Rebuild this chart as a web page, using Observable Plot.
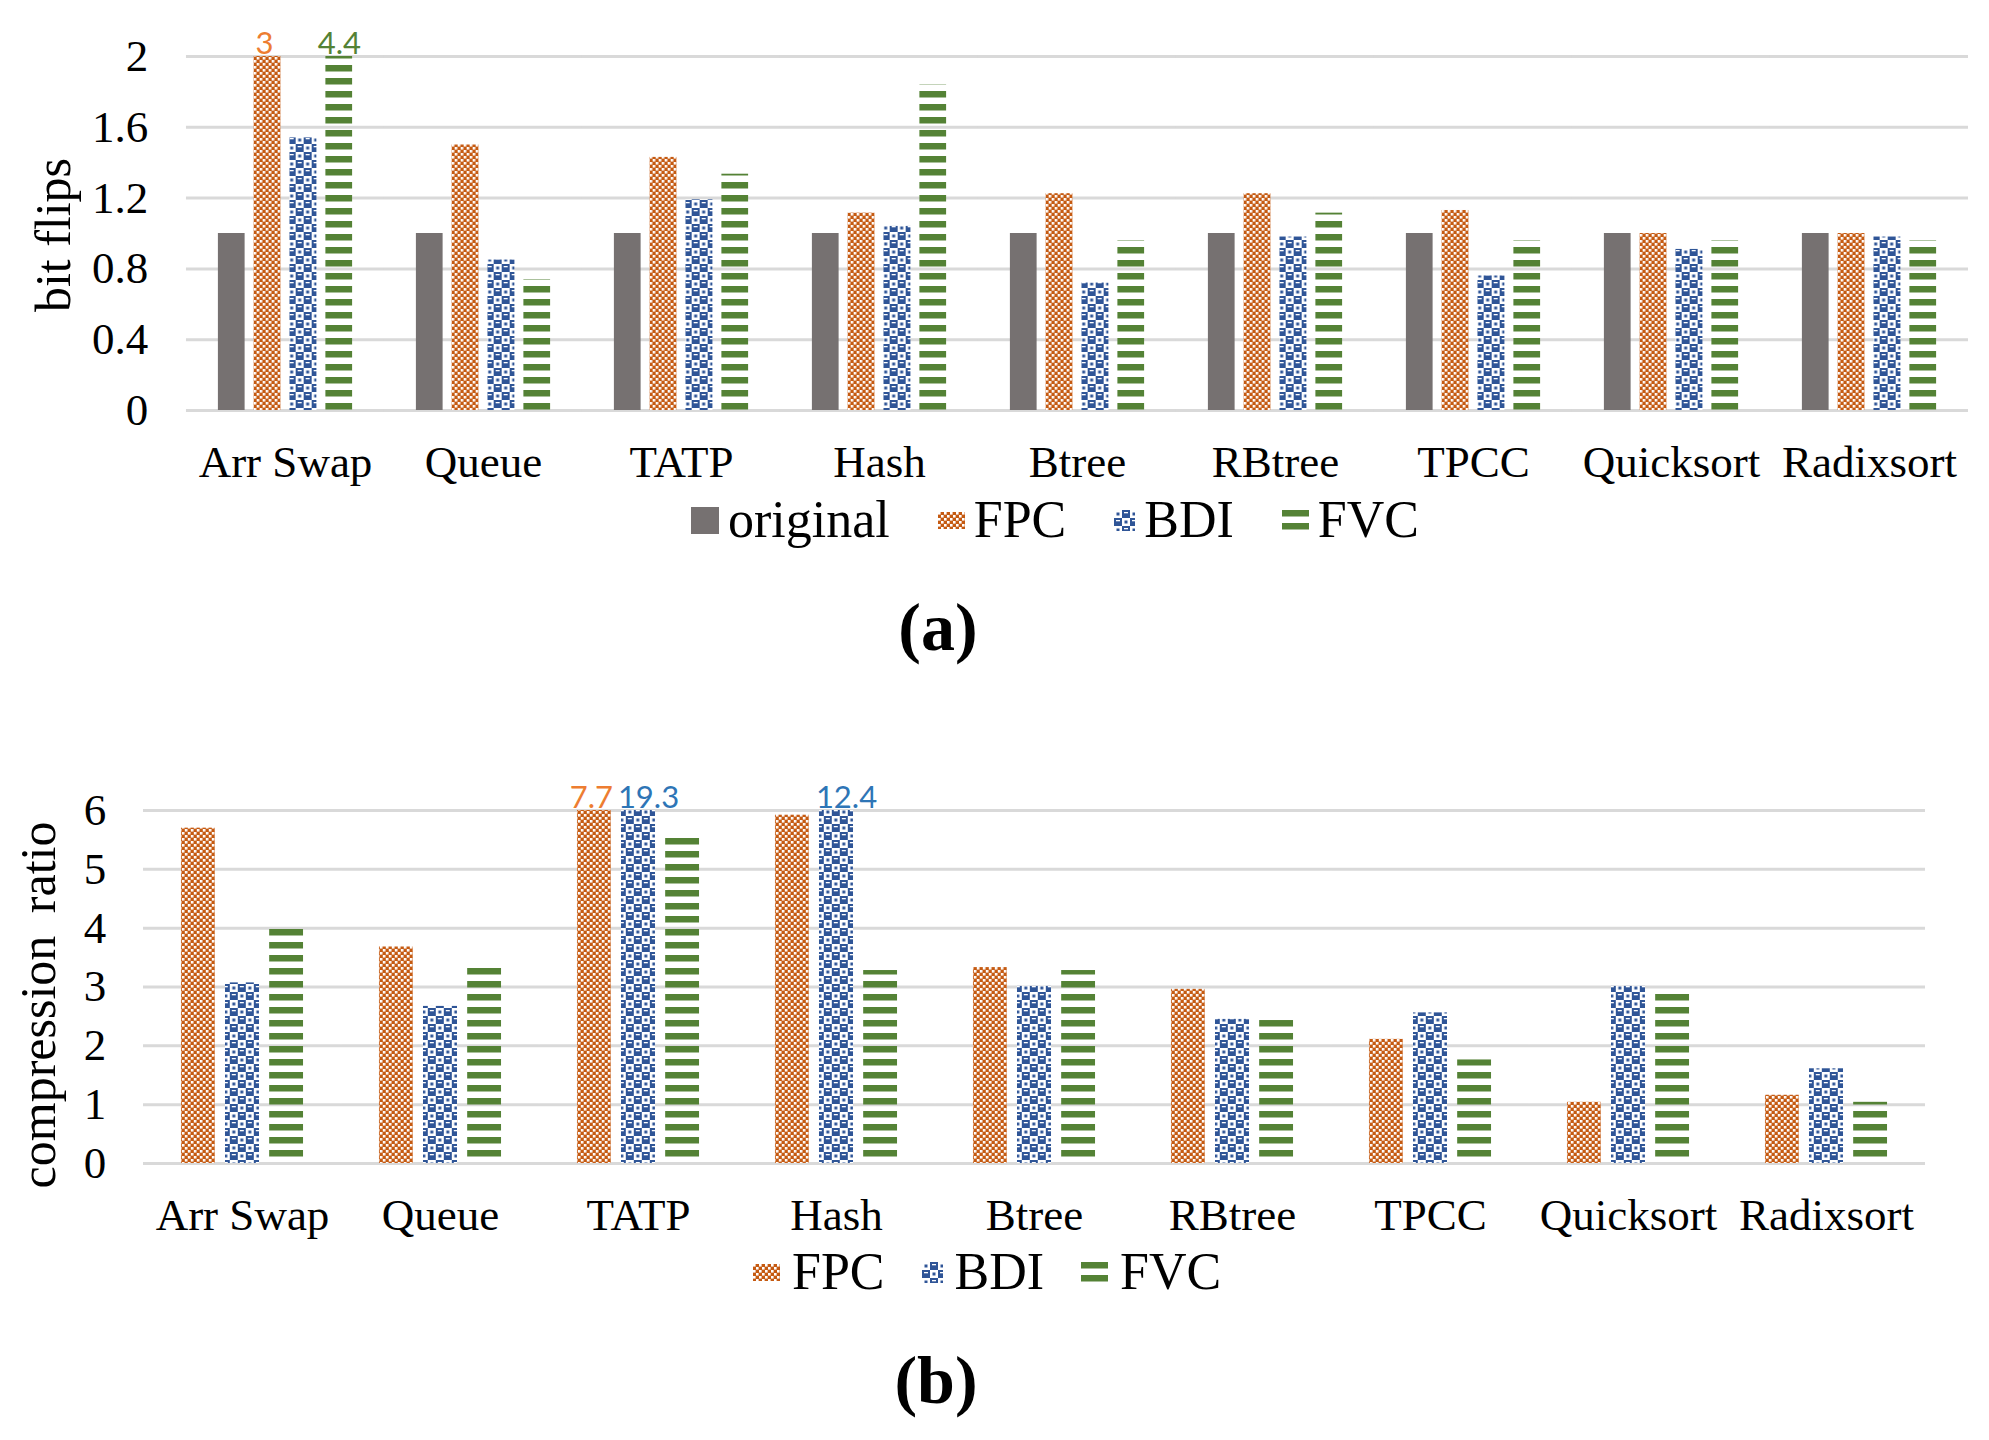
<!DOCTYPE html>
<html>
<head>
<meta charset="utf-8">
<script src="https://cdn.jsdelivr.net/npm/d3@7"></script>
<script src="https://cdn.jsdelivr.net/npm/@observablehq/plot@0.6"></script>
<style>
  html, body { margin: 0; padding: 0; background: #fff; }
  #page { position: relative; width: 1989px; height: 1440px; background: #fff; font-family: "Liberation Serif", serif; color: #000; }
  .abs { position: absolute; }
  .ytitle { position: absolute; white-space: nowrap; font-size: 50px; line-height: 1; transform: translate(-50%, -50%) rotate(-90deg); }
  .legend { position: absolute; display: flex; align-items: center; font-size: 52px; line-height: 52px; height: 52px; white-space: nowrap; }
  .legend .item { display: flex; align-items: center; }
  .legend svg { display: block; }
  .caption { position: absolute; font-size: 68px; font-weight: bold; line-height: 1; transform: translate(-50%, -50%); white-space: nowrap; }
</style>
</head>
<body>
<svg width="0" height="0" style="position:absolute">
  <defs>
    <pattern id="fpcPat" patternUnits="userSpaceOnUse" width="6" height="6">
      <rect width="6" height="6" fill="#C55A11"/>
      <rect x="0" y="0" width="2.6" height="2.6" fill="#fff"/>
      <rect x="3" y="3" width="2.6" height="2.6" fill="#fff"/>
    </pattern>
    <pattern id="bdiPat" patternUnits="userSpaceOnUse" width="16" height="16">
      <rect width="16" height="16" fill="#2F5597"/>
      <rect x="0" y="0" width="8" height="8" fill="#fff"/>
      <rect x="8" y="8" width="8" height="8" fill="#fff"/>
      <rect x="2.5" y="2.5" width="3" height="3" fill="#2F5597"/>
      <rect x="10.5" y="10.5" width="3" height="3" fill="#2F5597"/>
      <rect x="10" y="2" width="4" height="1.3" fill="#fff"/>
      <rect x="2" y="10" width="4" height="1.3" fill="#fff"/>
    </pattern>
    <pattern id="fvcPat" patternUnits="userSpaceOnUse" width="10" height="13">
      <rect width="10" height="6.5" fill="#548235"/>
    </pattern>
  </defs>
</svg>
<div id="page">
  <div id="chartA" class="abs" style="left:0;top:0"></div>
  <div class="ytitle" style="left:53px;top:235px">bit flips</div>
  <div id="legendA" class="legend" style="left:691px;top:494px"></div>
  <div class="caption" style="left:938px;top:627px">(a)</div>

  <div id="chartB" class="abs" style="left:0;top:760px"></div>
  <div class="ytitle" style="left:38px;top:1005px;word-spacing:10px">compression ratio</div>
  <div id="legendB" class="legend" style="left:753px;top:1246px"></div>
  <div class="caption" style="left:936px;top:1380px">(b)</div>
</div>
<script>
// ---- data ----
const categories = ["Arr Swap", "Queue", "TATP", "Hash", "Btree", "RBtree", "TPCC", "Quicksort", "Radixsort"];

const seriesA = ["original", "FPC", "BDI", "FVC"];
const originalFlips = [1, 1, 1, 1, 1, 1, 1, 1, 1];
const fpcFlips = [3, 1.5, 1.43, 1.115, 1.225, 1.225, 1.13, 1.0, 1.0];
const bdiFlips = [1.54, 0.85, 1.19, 1.04, 0.72, 0.98, 0.76, 0.91, 0.98];
const fvcFlips = [4.4, 0.74, 1.335, 1.84, 0.96, 1.115, 0.96, 0.96, 0.96];
const flipTicks = [0, 0.4, 0.8, 1.2, 1.6, 2];

const seriesB = ["FPC", "BDI", "FVC"];
const fpcRatio = [5.70, 3.68, 7.7, 5.92, 3.33, 2.96, 2.11, 1.04, 1.16];
const bdiRatio = [3.07, 2.67, 19.3, 12.4, 3.01, 2.45, 2.56, 3.01, 1.61];
const fvcRatio = [4.0, 3.33, 5.58, 3.28, 3.28, 2.43, 1.76, 2.89, 1.04];
const ratioTicks = [0, 1, 2, 3, 4, 5, 6];

// ---- styles ----
const fills = {original: "#767171", FPC: "url(#fpcPat)", BDI: "url(#bdiPat)", FVC: "url(#fvcPat)"};
const labelColors = {original: "#767171", FPC: "#ED7D31", BDI: "#2E75B6", FVC: "#548235"};
const labelDx = {original: 0, FPC: -3, BDI: 10, FVC: 0};

function makeChart(cfg) {
  const data = categories.flatMap((c, i) => cfg.series.map((s, j) => ({category: c, series: s, value: cfg.values[j][i]})));
  const labelMarks = cfg.series.map(s => Plot.text(
    data.filter(d => d.series === s && d.value > cfg.yMax),
    {fx: "category", x: "series", y: d => Math.min(d.value, cfg.yMax), text: d => String(d.value),
     fill: labelColors[s], dx: labelDx[s], dy: -3, lineAnchor: "bottom",
     fontFamily: "Lato", fontSize: 31}
  ));
  return Plot.plot({
    width: 1989,
    height: 500,
    marginTop: cfg.marginTop,
    marginBottom: cfg.marginBottom,
    marginLeft: cfg.marginLeft,
    marginRight: cfg.marginRight,
    style: {fontFamily: "Liberation Serif", fontSize: "45px", color: "#000", background: "transparent", overflow: "visible"},
    fx: {domain: categories, paddingInner: cfg.fxInner, paddingOuter: cfg.fxInner / 2, round: false, label: null},
    x: {domain: cfg.series, paddingInner: cfg.xInner, paddingOuter: 0, round: false, axis: null},
    y: {domain: [0, cfg.yMax]},
    color: {domain: cfg.series, range: cfg.series.map(s => fills[s])},
    marks: [
      Plot.ruleY(cfg.ticks, {y: d => d, stroke: "#D9D9D9", strokeWidth: 3, insetLeft: -cfg.halfGap, insetRight: -cfg.halfGap}),
      Plot.barY(data, {fx: "category", x: "series", y: "value", fill: "series", clip: true}),
      ...labelMarks,
      Plot.axisY({ticks: cfg.ticks, tickSize: 0, tickPadding: cfg.yTickPadding, tickFormat: d => String(d), label: null, fontSize: 45}),
      Plot.axisFx({anchor: "bottom", tickSize: 0, tickPadding: 35, label: null, fontSize: 45})
    ]
  });
}

const chartA = makeChart({
  series: seriesA,
  values: [originalFlips, fpcFlips, bdiFlips, fvcFlips],
  yMax: 2, ticks: flipTicks,
  marginTop: 56, marginBottom: 90, marginLeft: 186, marginRight: 21,
  fxInner: 0.32, xInner: 0.25, halfGap: 31.7, yTickPadding: 70
});
document.getElementById("chartA").appendChild(chartA);

const chartB = makeChart({
  series: seriesB,
  values: [fpcRatio, bdiRatio, fvcRatio],
  yMax: 6, ticks: ratioTicks,
  marginTop: 50, marginBottom: 97, marginLeft: 143, marginRight: 64,
  fxInner: 0.382, xInner: 0.23, halfGap: 37.8, yTickPadding: 75
});
document.getElementById("chartB").appendChild(chartB);

// ---- legends ----
const swatchSize = {original: [28, 27], FPC: [27, 17], BDI: [21, 21], FVC: [27, 20]};
function makeLegend(el, series, gapText, gapItem) {
  series.forEach((s, i) => {
    const item = document.createElement("div");
    item.className = "item";
    if (i > 0) item.style.marginLeft = gapItem + "px";
    const [w, h] = swatchSize[s];
    item.innerHTML = `<svg width="${w}" height="${h}" style="margin-right:${gapText}px"><rect width="${w}" height="${h}" fill="${fills[s]}"/></svg><span>${s}</span>`;
    el.appendChild(item);
  });
}
makeLegend(document.getElementById("legendA"), seriesA, 9, 48);
makeLegend(document.getElementById("legendB"), seriesB, 12, 37);
</script>
</body>
</html>
